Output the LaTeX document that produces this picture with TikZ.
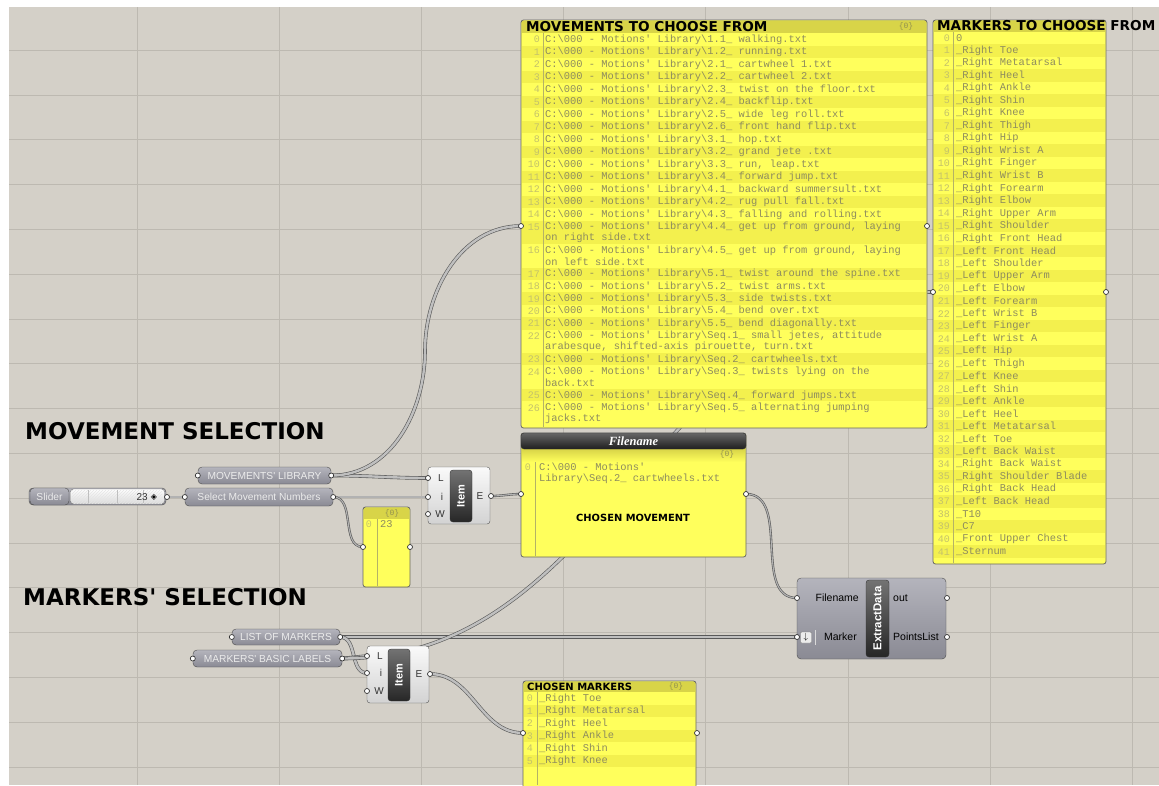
\documentclass[tikz,border=0pt]{standalone}
\usepackage{fontspec}
\setmainfont{Liberation Sans}
\setmonofont{Liberation Mono}
\newfontfamily\comicfont{DejaVu Sans}
\newfontfamily\titlefont{Liberation Serif}
\usetikzlibrary{patterns}
\pgfdeclarelayer{bg}
\pgfsetlayers{bg,main}

\definecolor{canvas}{HTML}{D4D0C8}
\definecolor{gridline}{HTML}{BDB9B1}
\definecolor{panelyellow}{HTML}{FFFF5C}
\definecolor{panelstripe}{HTML}{F3F04E}
\definecolor{panelhead}{HTML}{D8D448}
\definecolor{paneltext}{HTML}{8E8C5E}
\definecolor{panelidx}{HTML}{C4C26A}
\definecolor{paramtop}{HTML}{B4B4BC}
\definecolor{parambot}{HTML}{8A8A94}

\newcommand{\mlib}{C:\textbackslash000 - Motions' Library\textbackslash}

\tikzset{
  ghport/.style={circle,draw=black!80,fill=white,line width=.7pt,inner sep=0pt,minimum size=5pt},
  ghwire/.style={draw=black!65,line width=.6pt,double=gray!60,double distance=1.1pt},
  ghlist/.style={draw=black!65,line width=.6pt,double=gray!50,double distance=2.4pt},
  ghparam/.style={rounded corners=4pt,draw=black!70,top color=paramtop,bottom color=parambot,
    text=white!85!gray,inner sep=0pt,font=\fontsize{10.2}{12}\selectfont},
  ghcomp/.style={rounded corners=3pt,draw=black!65,top color=white!96!gray,bottom color=gray!35,inner sep=0pt},
  itembar/.style={rounded corners=3pt,draw=black!80,top color=black!55,bottom color=black!85,text=white,
    inner sep=0pt,font=\fontsize{11}{13}\selectfont\bfseries},
  ghpanel/.style={rounded corners=2.5pt,draw=black!60,fill=panelyellow,inner sep=0pt,line width=.8pt},
  celltext/.style={font=\ttfamily\fontsize{10.4}{12}\selectfont,text=paneltext,inner sep=0pt,anchor=west},
  cellnum/.style={font=\ttfamily\fontsize{10}{12}\selectfont,text=panelidx,inner sep=0pt,anchor=east},
  hcount/.style={font=\ttfamily\fontsize{8}{9}\selectfont,text=panelidx!75!black,inner sep=0pt},
  panelsep/.style={draw=panelidx!70!paneltext,line width=.5pt},
  panelhd/.style={font=\comicfont\bfseries\fontsize{13.6}{15}\selectfont,inner sep=0pt,anchor=west},
  sectag/.style={font=\comicfont\bfseries\fontsize{23}{26}\selectfont,inner sep=0pt,anchor=west},
  plabel/.style={font=\fontsize{10}{12}\selectfont,text=black!80,inner sep=0pt},
}

\begin{document}
\begin{tikzpicture}[x=1pt,y=-1pt]
\useasboundingbox (0,0) rectangle (1159,785);
\begin{pgfonlayer}{bg}
  \fill[canvas] (9,7) rectangle (1159,785);
  \foreach \x in {137,279,421,563,705,848,990,1132}
    \draw[gridline] (\x,7) -- (\x,785);
  \foreach \k in {0,...,16}
    \draw[gridline] (9,50+44.8*\k) -- (1159,50+44.8*\k);
\end{pgfonlayer}

% section titles
\node[sectag] (msel) at (25,431) {MOVEMENT SELECTION};
\node[sectag] (ksel) at (23,597) {MARKERS\textquotesingle{} SELECTION};

% slider
\node[ghparam,minimum width=137pt,minimum height=17pt] (slider) at (97.5,496.5) {};
\node[ghparam,minimum width=39pt,minimum height=17pt] (sliderl) at (49.5,496.5) {Slider};
\node[rounded corners=3pt,draw=black!55,top color=white,bottom color=gray!30,minimum width=94pt,minimum height=15pt,inner sep=0pt] (slidert) at (117.5,496.5) {};
\fill[pattern=north east lines,pattern color=black!10] (72,490) rectangle (162,503);
\foreach \x in {88,117,143}
  \draw[black!25] (\x,490) -- (\x,503);
\node[plabel,anchor=east] (sliderv) at (148,497) {23};
\node[font=\comicfont\fontsize{8}{8}\selectfont,inner sep=0pt] (sliderd) at (154,497) {◈};
\node[ghport] (slider-o) at (167,497) {};

% parameters
\node[ghparam,minimum width=133pt,minimum height=17pt] (lib) at (264.5,475.5) {MOVEMENTS\textquotesingle{} LIBRARY};
\node[ghparam,minimum width=148pt,minimum height=18pt] (smn) at (259,497) {Select Movement Numbers};
\node[ghparam,minimum width=108pt,minimum height=16pt] (lom) at (286,637) {LIST OF MARKERS};
\node[ghparam,minimum width=149pt,minimum height=17pt] (mbl) at (267.5,658.5) {MARKERS\textquotesingle{} BASIC LABELS};
\foreach \p in {lib,smn,lom,mbl}{
  \node[ghport] (\p-i) at (\p.west) {};
  \node[ghport] (\p-o) at (\p.east) {};
}

% list item, movements
\node[ghcomp,minimum width=62pt,minimum height=57pt] (itemA) at (459,495.5) {};
\node[itembar,rotate=90,minimum width=52pt,minimum height=22pt] (itemAbar) at (461,496) {Item};
\node[plabel] (itemAl) at (441,478) {L};
\node[plabel] (itemAi) at (442,497) {i};
\node[plabel] (itemAw) at (440,514) {W};
\node[plabel] (itemAe) at (480,496) {E};
\node[ghport] (itemA-L) at (428,478) {};
\node[ghport] (itemA-i) at (428,497) {};
\node[ghport] (itemA-W) at (428,514) {};
\node[ghport] (itemA-E) at (491,496) {};

% list item, markers
\node[ghcomp,minimum width=62pt,minimum height=57pt] (itemB) at (398,674.5) {};
\node[itembar,rotate=90,minimum width=52pt,minimum height=22pt] (itemBbar) at (399,675) {Item};
\node[plabel] (itemBl) at (380,656) {L};
\node[plabel] (itemBi) at (381,673) {i};
\node[plabel] (itemBw) at (379,691) {W};
\node[plabel] (itemBe) at (419,674) {E};
\node[ghport] (itemB-L) at (367,656) {};
\node[ghport] (itemB-i) at (367,673) {};
\node[ghport] (itemB-W) at (367,691) {};
\node[ghport] (itemB-E) at (430,674) {};

% number panel
\node[ghpanel,minimum width=47pt,minimum height=80pt] (nump) at (386.5,547) {};
\fill[panelhead] (364,508) rectangle (409,519);
\node[hcount] (numc) at (392,513) {\{0\}};
\draw[panelsep] (377,519) -- (377,586);
\node[cellnum] (numi) at (372,524) {0};
\node[celltext] (numa) at (380,524) {23};
\node[ghport] (nump-i) at (363,547) {};
\node[ghport] (nump-o) at (410,547) {};

% movements to choose from
\node[ghpanel,minimum width=406pt,minimum height=408pt] (movp) at (724,224) {};
\fill[panelhead] (522,21) rectangle (926,32.5);
\node[panelhd] (movt) at (526,26.5) {MOVEMENTS TO CHOOSE FROM};
\node[hcount] (movc) at (906,26) {\{0\}};
\foreach \i/\t/\h/\la/\lb in {
  0/33/12.5/{\mlib 1.1\_ walking.txt}/{},
  1/45.5/12.5/{\mlib 1.2\_ running.txt}/{},
  2/58/12.5/{\mlib 2.1\_ cartwheel 1.txt}/{},
  3/70.5/12.5/{\mlib 2.2\_ cartwheel 2.txt}/{},
  4/83/12.5/{\mlib 2.3\_ twist on the floor.txt}/{},
  5/95.5/12.5/{\mlib 2.4\_ backflip.txt}/{},
  6/108/12.5/{\mlib 2.5\_ wide leg roll.txt}/{},
  7/120.5/12.5/{\mlib 2.6\_ front hand flip.txt}/{},
  8/133/12.5/{\mlib 3.1\_ hop.txt}/{},
  9/145.5/12.5/{\mlib 3.2\_ grand jete .txt}/{},
  10/158/12.5/{\mlib 3.3\_ run, leap.txt}/{},
  11/170.5/12.5/{\mlib 3.4\_ forward jump.txt}/{},
  12/183/12.5/{\mlib 4.1\_ backward summersult.txt}/{},
  13/195.5/12.5/{\mlib 4.2\_ rug pull fall.txt}/{},
  14/208/12.5/{\mlib 4.3\_ falling and rolling.txt}/{},
  15/220.5/23.5/{\mlib 4.4\_ get up from ground, laying}/{on right side.txt},
  16/244/23.5/{\mlib 4.5\_ get up from ground, laying}/{on left side.txt},
  17/267.5/12.4/{\mlib 5.1\_ twist around the spine.txt}/{},
  18/279.9/12.4/{\mlib 5.2\_ twist arms.txt}/{},
  19/292.3/12.4/{\mlib 5.3\_ side twists.txt}/{},
  20/304.7/12.4/{\mlib 5.4\_ bend over.txt}/{},
  21/317.1/12.4/{\mlib 5.5\_ bend diagonally.txt}/{},
  22/329.5/23.5/{\mlib Seq.1\_ small jetes, attitude}/{arabesque, shifted-axis pirouette, turn.txt},
  23/353/12.4/{\mlib Seq.2\_ cartwheels.txt}/{},
  24/365.4/23.5/{\mlib Seq.3\_ twists lying on the}/{back.txt},
  25/388.9/12.4/{\mlib Seq.4\_ forward jumps.txt}/{},
  26/401.3/23.5/{\mlib Seq.5\_ alternating jumping}/{jacks.txt}}{
  \ifodd\i \fill[panelstripe] (522,\t) rectangle (926,\t+\h); \fi
  \node[cellnum] (movi\i) at (540,\t+6.5) {\i};
  \node[celltext] (mova\i) at (545,\t+6.5) {\la};
  \node[celltext] (movb\i) at (545,\t+17.8) {\lb};
}
\draw[panelsep] (543,32.5) -- (543,427);
\node[ghport] (movp-i) at (521,226) {};
\node[ghport] (movp-o) at (927,226) {};

% markers to choose from
\node[ghpanel,minimum width=173pt,minimum height=544pt] (markp) at (1019.5,292) {};
\fill[panelhead] (934,21) rectangle (1105,31.5);
\foreach \txt [count=\n from 0] in {0,\_Right Toe,\_Right Metatarsal,\_Right Heel,\_Right Ankle,
  \_Right Shin,\_Right Knee,\_Right Thigh,\_Right Hip,\_Right Wrist A,\_Right Finger,
  \_Right Wrist B,\_Right Forearm,\_Right Elbow,\_Right Upper Arm,\_Right Shoulder,
  \_Right Front Head,\_Left Front Head,\_Left Shoulder,\_Left Upper Arm,\_Left Elbow,
  \_Left Forearm,\_Left Wrist B,\_Left Finger,\_Left Wrist A,\_Left Hip,\_Left Thigh,
  \_Left Knee,\_Left Shin,\_Left Ankle,\_Left Heel,\_Left Metatarsal,\_Left Toe,
  \_Left Back Waist,\_Right Back Waist,\_Right Shoulder Blade,\_Right Back Head,
  \_Left Back Head,\_T10,\_C7,\_Front Upper Chest,\_Sternum}{
  \ifodd\n \fill[panelstripe] (934,31.5+12.53*\n) rectangle (1105,44.03+12.53*\n); \fi
  \node[cellnum] (marki\n) at (950,38+12.53*\n) {\n};
  \node[celltext] (marka\n) at (956,38+12.53*\n) {\txt};
}
\draw[panelsep] (953,31.5) -- (953,563);
\node[panelhd] (markt) at (937,26) {MARKERS TO CHOOSE FROM};
\node[ghport] (markp-i) at (933,292) {};
\node[ghport] (markp-o) at (1106,292) {};

% chosen movement
\node[ghpanel,minimum width=225pt,minimum height=124pt] (fnp) at (633.5,495) {};
\shade[top color=panelhead,bottom color=panelyellow] (522,449) rectangle (745,462);
\node[rounded corners=3pt,draw=black!80,top color=black!60,bottom color=black!88,minimum width=225pt,
  minimum height=16pt,inner sep=0pt,text=white,font=\titlefont\bfseries\itshape\fontsize{12.5}{14}\selectfont] (fnh) at (633.5,441) {Filename};
\node[hcount] (fnc) at (727,454) {\{0\}};
\draw[panelsep] (535,462) -- (535,556);
\node[cellnum] (fni) at (531,467) {0};
\node[celltext] (fna) at (539,467) {C:\textbackslash000 - Motions'};
\node[celltext] (fnb) at (539,479) {Library\textbackslash Seq.2\_ cartwheels.txt};
\node[font=\comicfont\bfseries\fontsize{9.9}{11}\selectfont,inner sep=0pt] (fnt) at (633,518) {CHOSEN MOVEMENT};
\node[ghport] (fnp-i) at (521,494) {};
\node[ghport] (fnp-o) at (746,494) {};

% chosen markers
\node[ghpanel,minimum width=173pt,minimum height=112pt] (chp) at (609.5,737) {};
\fill[panelhead] (524,682) rectangle (695,692);
\node[font=\comicfont\bfseries\fontsize{10}{11}\selectfont,inner sep=0pt,anchor=west] (cht) at (527,687) {CHOSEN MARKERS};
\node[hcount] (chc) at (676,686) {\{0\}};
\foreach \txt [count=\n from 0] in {\_Right Toe,\_Right Metatarsal,\_Right Heel,\_Right Ankle,\_Right Shin,\_Right Knee}{
  \ifodd\n \fill[panelstripe] (524,692+12.55*\n) rectangle (695,704.55+12.55*\n); \fi
  \node[cellnum] (chi\n) at (533,698.3+12.55*\n) {\n};
  \node[celltext] (cha\n) at (539,698.3+12.55*\n) {\txt};
}
\draw[panelsep] (537,692) -- (537,785);
\node[ghport] (chp-i) at (523,733) {};
\node[ghport] (chp-o) at (697,733) {};

% extract data
\node[rounded corners=4pt,draw=black!70,top color=paramtop,bottom color=parambot,minimum width=149pt,
  minimum height=81pt,inner sep=0pt] (ext) at (871.5,618.5) {};
\node[itembar,rotate=90,minimum width=77pt,minimum height=23pt,font=\fontsize{11.5}{13}\selectfont\bfseries] (extbar) at (877.5,618.5) {ExtractData};
\node[plabel,anchor=east,font=\fontsize{10.5}{12}\selectfont,text=black] (extf) at (859,598) {Filename};
\node[plabel,anchor=east,font=\fontsize{10.5}{12}\selectfont,text=black] (extm) at (857,637) {Marker};
\node[plabel,anchor=west,font=\fontsize{10.5}{12}\selectfont,text=black] (exto) at (893,598) {out};
\node[plabel,anchor=west,font=\fontsize{10.5}{12}\selectfont,text=black] (extp) at (893,637) {PointsList};
\node[draw=black!50,fill=white!85!gray,rounded corners=1pt,minimum width=11pt,minimum height=11pt,
  inner sep=0pt,font=\fontsize{9}{9}\selectfont] (extic) at (806,637.5) {$\downarrow$};
\draw[white!70!gray,line width=1pt] (815,630) -- (815,645);
\node[ghport] (ext-f) at (797,598) {};
\node[ghport] (ext-m) at (797,637) {};
\node[ghport] (ext-o) at (947,598) {};
\node[ghport] (ext-p) at (947,637) {};

% wires
\coordinate (libbend) at (425,351);
\begin{pgfonlayer}{bg}
  \draw[ghwire] (slider-o.center) -- (smn-i.center);
  \draw[ghlist] (lib-o.center) to[out=0,in=180] (itemA-L.center);
  \draw[ghlist] (lib-o.center) .. controls +(60,0) and +(0,60) .. (libbend)
    .. controls +(0,-60) and +(-60,0) .. (movp-i.center);
  \draw[ghwire] (smn-o.center) -- (itemA-i.center);
  \draw[ghwire] (smn-o.center) to[out=0,in=180] (nump-i.center);
  \draw[ghwire] (itemA-E.center) to[out=0,in=180] (fnp-i.center);
  \draw[ghwire] (fnp-o.center) to[out=0,in=180] (ext-f.center);
  \draw[ghlist] (lom-o.center) -- (ext-m.center);
  \draw[ghlist] (lom-o.center) to[out=0,in=180] (itemB-i.center);
  \draw[ghlist] (mbl-o.center) -- (itemB-L.center);
  \draw[ghlist] (mbl-o.center) to[out=0,in=180] (markp-i.center);
  \draw[ghlist] (itemB-E.center) to[out=0,in=180] (chp-i.center);
\end{pgfonlayer}
\end{tikzpicture}
\end{document}
